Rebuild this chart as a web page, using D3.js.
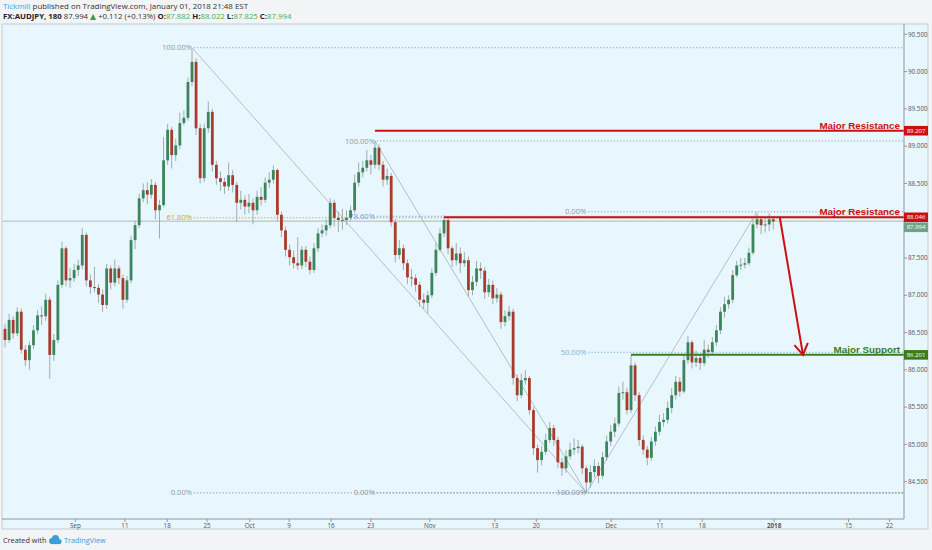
<!DOCTYPE html>
<html><head><meta charset="utf-8">
<script src="https://cdn.jsdelivr.net/npm/d3@7"></script>
<style>html,body{margin:0;padding:0;background:#f2f4f5;} svg{display:block;}</style>
</head><body><svg id="c" width="932" height="550"></svg>
<script>
// ---- DATA (AUDJPY, 180 min, resampled) ----
const firstOpen = 86.55;
const closes = [
86.40,86.67,86.49,86.78,86.27,86.13,86.33,86.53,86.73,86.72,
86.94,86.20,86.40,87.14,87.63,87.20,87.23,87.34,87.40,87.81,
87.20,87.11,87.10,87.01,86.87,87.36,87.17,87.36,87.23,86.94,
87.20,87.74,87.94,88.30,88.41,88.35,88.48,88.14,88.21,88.81,
89.22,88.88,89.01,89.31,89.38,89.86,90.13,89.24,88.57,89.24,
89.46,88.75,88.57,88.52,88.46,88.61,88.48,88.24,88.28,88.19,
88.24,88.14,88.32,88.28,88.51,88.55,88.68,88.08,87.87,87.61,
87.51,87.43,87.40,87.61,87.45,87.34,87.63,87.83,87.87,87.94,
88.24,88.04,88.01,88.01,88.04,88.14,88.51,88.65,88.71,88.81,
88.75,88.98,88.75,88.55,88.60,87.98,87.54,87.63,87.43,87.24,
87.23,87.14,86.94,86.90,87.00,87.30,87.61,87.83,88.01,87.63,
87.47,87.56,87.43,87.47,87.07,87.18,87.36,87.33,87.04,87.14,
86.96,87.01,86.64,86.72,86.78,85.89,85.66,85.86,85.89,85.46,
84.95,84.79,84.90,85.06,85.22,85.06,84.76,84.68,84.84,84.93,
84.95,84.97,84.68,84.49,84.63,84.71,84.58,84.83,85.04,85.17,
85.28,85.69,85.70,85.46,86.06,85.66,85.06,84.93,84.82,85.04,
85.17,85.30,85.33,85.49,85.66,85.84,85.71,86.13,86.37,86.10,
86.16,86.09,86.27,86.24,86.37,86.53,86.78,86.88,86.94,87.27,
87.40,87.41,87.43,87.57,87.95,88.02,87.94,87.95,88.02,87.99];
const highs = [
86.62,86.75,86.72,86.84,86.82,86.33,86.38,86.60,86.80,86.85,
87.02,86.98,86.48,87.20,87.72,87.66,87.36,87.42,87.48,87.90,
87.84,87.28,87.38,87.15,87.08,87.42,87.40,87.48,87.40,87.28,
87.26,87.80,88.00,88.36,88.50,88.52,88.56,88.52,88.28,89.12,
89.30,89.26,89.10,89.45,89.48,89.92,90.30,90.18,89.30,89.30,
89.60,89.50,88.80,88.66,88.58,88.78,88.68,88.52,88.40,88.34,
88.36,88.30,88.40,88.45,88.58,88.65,88.74,88.70,88.12,87.92,
87.68,87.60,87.78,87.66,87.66,87.52,87.70,87.90,87.95,88.02,
88.30,88.28,88.12,88.16,88.14,88.20,88.62,88.78,88.80,88.95,
88.88,89.07,89.02,88.80,88.70,88.64,88.02,87.74,87.68,87.48,
87.35,87.28,87.18,87.02,87.06,87.36,87.70,87.90,88.07,88.04,
87.66,87.70,87.64,87.58,87.52,87.26,87.46,87.44,87.38,87.22,
87.20,87.10,87.05,86.80,86.86,86.82,85.94,85.95,86.00,85.92,
85.50,85.00,84.98,85.14,85.30,85.26,85.10,84.82,84.92,85.02,
85.08,85.06,85.00,84.72,84.72,84.80,84.76,84.90,85.12,85.26,
85.36,85.78,85.84,85.76,86.20,86.10,85.70,85.12,84.98,85.10,
85.24,85.40,85.42,85.58,85.76,85.92,85.90,86.20,86.46,86.40,
86.26,86.22,86.40,86.34,86.44,86.60,86.84,86.98,87.00,87.34,
87.46,87.50,87.50,87.64,88.02,88.10,88.06,88.04,88.10,88.06];
const lows = [
86.30,86.36,86.42,86.45,86.22,86.05,86.00,86.28,86.48,86.60,
86.66,85.88,86.12,86.36,87.10,87.12,87.10,87.18,87.26,87.35,
87.12,87.02,87.04,86.90,86.78,86.82,87.08,87.12,87.15,86.82,
86.90,87.16,87.62,87.90,88.25,88.22,88.30,88.02,87.76,88.18,
88.75,88.70,88.80,88.96,89.28,89.34,89.80,89.15,88.50,88.52,
89.18,88.66,88.48,88.40,88.36,88.40,88.38,87.98,88.15,88.08,
88.10,87.95,88.08,88.20,88.24,88.44,88.50,88.00,87.78,87.52,
87.40,87.36,87.34,87.35,87.38,87.28,87.30,87.58,87.78,87.80,
87.90,87.92,87.85,87.88,87.94,88.00,88.10,88.46,88.58,88.66,
88.62,88.70,88.68,88.46,88.48,87.92,87.44,87.48,87.34,87.15,
87.12,87.05,86.85,86.82,86.76,86.96,87.26,87.58,87.78,87.55,
87.38,87.40,87.30,87.38,86.98,87.00,87.12,87.22,86.95,86.98,
86.88,86.90,86.55,86.58,86.66,85.80,85.58,85.62,85.80,85.40,
84.86,84.62,84.72,84.86,85.02,84.98,84.68,84.58,84.62,84.80,
84.86,84.88,84.60,84.35,84.42,84.56,84.48,84.54,84.78,84.98,
85.10,85.24,85.60,85.40,85.42,85.58,84.98,84.86,84.72,84.78,
84.98,85.12,85.24,85.28,85.42,85.60,85.64,85.68,86.08,86.02,
86.04,86.00,86.05,86.16,86.20,86.32,86.48,86.70,86.82,86.90,
87.24,87.34,87.36,87.40,87.54,87.90,87.82,87.84,87.86,87.88];

// 88.000 is hidden behind the price badges in the reference
const yTicks = [84.5,85,85.5,86,86.5,87,87.5,88.5,89,89.5,90,90.5];
const xTickLabels = ["Sep","11","18","25","Oct","9","16","23","Nov","13","20","Dec","11","18","2018","15","22"];
const xTickBars   = [17.3,29.5,39.9,49.7,60.2,69.9,80.2,90.0,104.5,120.5,130.7,149.1,161.1,171.5,189.2,207.5,217.6];

// fib retracements: [bar1, price1, bar2, price2]
const fibAnchors = [[46,90.32,143,84.35],[91,89.07,143,84.35],[143,84.35,185,88.12]];
const fibLevels = [[1,0.618,0],[1,0.786,0],[1,0.5,0]];
const fibLevelNames = [["100.00%","61.80%","0.00%"],["100.00%","78.60%","0.00%"],["100.00%","50.00%","0.00%"]];
const fibLevelColors = [["#8e9ba6","#c2ac2e","#8e9ba6"],["#8e9ba6","#6f9fd6","#8e9ba6"],["#8e9ba6","#7db3dd","#8e9ba6"]];

// support / resistance levels
const srNames  = ["Major Resistance","Major Resistance","Major Support"];
const srPrices = [89.207, 88.046, 86.201];
const srStartBars = [91, 108, 154];
const srColors = ["#cc1010","#cc1010","#3a7d1c"];
const lastPrice = 87.994;
const arrowFrom = [190.6, 88.046], arrowTo = [196.3, 86.20];

const headerParts = [["FX:AUDJPY, 180","#222","bold"],[" 87.994 ","#333","normal"],["▲","#3d9e3d","normal"],[" +0.112 (+0.13%) ","#333","normal"],
 ["O:","#222","bold"],["87.882","#4caf50","normal"],[" H:","#222","bold"],["88.022","#4caf50","normal"],
 [" L:","#222","bold"],["87.825","#4caf50","normal"],[" C:","#222","bold"],["87.994","#4caf50","normal"]];

// ---- DRAW ----
const svg = d3.select("#c");
const PL = 3, PR = 904, PT = 24, PB = 519;
const x = d3.scaleLinear().domain([0,189]).range([5.03,773.3]);
const y = d3.scaleLinear().domain([84.5,90.5]).range([481.7,34.3]);
const F = "'Open Sans', 'DejaVu Sans', sans-serif";

svg.append("rect").attr("width",932).attr("height",550).attr("fill","#f2f4f5");
svg.append("rect").attr("x",2).attr("y",PT).attr("width",926).attr("height",505)
  .attr("fill","#e8f6fd").attr("stroke","#c3ccd2").attr("stroke-width",1);

svg.append("clipPath").attr("id","pc").append("rect").attr("x",PL).attr("y",PT).attr("width",PR-PL).attr("height",PB-PT);
const plot = svg.append("g").attr("clip-path","url(#pc)");

// fib levels
fibAnchors.forEach((a,k)=>{
  const [b1,p1,b2,p2] = a;
  fibLevels[k].forEach((lv,j)=>{
    const pr = p2 + lv*(p1-p2);
    plot.append("line").attr("x1",x(b1)+2).attr("x2",PR).attr("y1",y(pr)).attr("y2",y(pr))
      .attr("stroke",fibLevelColors[k][j]).attr("stroke-width",1).attr("stroke-dasharray","1.2,2");
    plot.append("text").attr("x",x(b1)).attr("y",y(pr)+2.6).attr("text-anchor","end")
      .attr("font-family",F).attr("font-size",7.6).attr("fill",fibLevelColors[k][j]).text(fibLevelNames[k][j]);
  });
  plot.append("line").attr("x1",x(b1)).attr("y1",y(p1)).attr("x2",x(b2)).attr("y2",y(p2))
    .attr("stroke","#8f9aa3").attr("stroke-width",0.6);
});

// last price line
plot.append("line").attr("x1",PL).attr("x2",PR).attr("y1",y(lastPrice)).attr("y2",y(lastPrice))
  .attr("stroke","#a3aaae").attr("stroke-width",0.8);

// candles
const opens = closes.map((c,i)=> i===0 ? firstOpen : closes[i-1]);
const cg = plot.append("g");
closes.forEach((c,i)=>{
  const o = opens[i], up = c >= o, cx = x(i);
  cg.append("line").attr("x1",cx).attr("x2",cx).attr("y1",y(highs[i])).attr("y2",y(lows[i]))
    .attr("stroke","#9aa3a3").attr("stroke-width",0.9);
  const top = y(Math.max(o,c)), bot = y(Math.min(o,c));
  cg.append("rect").attr("x",cx-1.4).attr("width",2.8).attr("y",top).attr("height",Math.max(1,bot-top))
    .attr("fill", up ? "#3a855c" : "#a83b2b");
});

// support / resistance
srPrices.forEach((p,k)=>{
  plot.append("line").attr("x1",x(srStartBars[k])).attr("x2",PR).attr("y1",y(p)).attr("y2",y(p))
    .attr("stroke",srColors[k]).attr("stroke-width",2);
  plot.append("text").attr("x",900).attr("y",y(p)-2.2).attr("text-anchor","end")
    .attr("font-family","'Liberation Sans', Arial, sans-serif").attr("font-weight","bold").attr("font-size",9.8)
    .attr("fill",srColors[k]).text(srNames[k]);
});

// arrow
const ax1 = x(arrowFrom[0]), ay1 = y(arrowFrom[1]), ax2 = x(arrowTo[0]), ay2 = y(arrowTo[1]);
plot.append("line").attr("x1",ax1).attr("y1",ay1).attr("x2",ax2).attr("y2",ay2)
  .attr("stroke","#cc1010").attr("stroke-width",2);
const ang = Math.atan2(ay2-ay1, ax2-ax1), L = 13, sp = 0.55;
const hp = [[ax2 - L*Math.cos(ang-sp), ay2 - L*Math.sin(ang-sp)],[ax2,ay2],[ax2 - L*Math.cos(ang+sp), ay2 - L*Math.sin(ang+sp)]];
plot.append("path").attr("d", d3.line()(hp)).attr("fill","none").attr("stroke","#cc1010").attr("stroke-width",2)
  .attr("stroke-linejoin","miter");

// axes
svg.append("line").attr("x1",PR).attr("x2",PR).attr("y1",PT).attr("y2",PB).attr("stroke","#8e989f");
svg.append("line").attr("x1",2).attr("x2",PR).attr("y1",PB).attr("y2",PB).attr("stroke","#8e989f");
yTicks.forEach(t=>{
  svg.append("line").attr("x1",PR).attr("x2",PR+3).attr("y1",y(t)).attr("y2",y(t)).attr("stroke","#8e989f");
  svg.append("text").attr("x",908).attr("y",y(t)+2.2).attr("font-family",F).attr("font-size",6.3)
    .attr("fill","#555").text(d3.format(".3f")(t));
});
xTickLabels.forEach((lab,k)=>{
  const tx = x(xTickBars[k]);
  svg.append("line").attr("x1",tx).attr("x2",tx).attr("y1",PB).attr("y2",PB+3).attr("stroke","#8e989f");
  svg.append("text").attr("x",tx).attr("y",PB+8.5).attr("text-anchor","middle").attr("font-family",F)
    .attr("font-size",6.3).attr("font-weight", lab==="2018" ? "bold" : "normal").attr("fill","#555").text(lab);
});

// badges
const badge = (yc, col, txt)=>{
  svg.append("rect").attr("x",PR).attr("y",yc-4.8).attr("width",24).attr("height",9.6).attr("fill",col);
  svg.append("text").attr("x",PR+12).attr("y",yc+2.1).attr("text-anchor","middle").attr("font-family",F)
    .attr("font-size",6).attr("fill","#fff").text(txt);
};
badge(y(srPrices[0]), "#cc1010", d3.format(".3f")(srPrices[0]));
badge(y(srPrices[1]), "#cc1010", d3.format(".3f")(srPrices[1]));
badge(y(srPrices[1])+10, "#6fa386", d3.format(".3f")(lastPrice));
badge(y(srPrices[2]), "#3a7d1c", d3.format(".3f")(srPrices[2]));

// header
const h1 = svg.append("text").attr("x",3).attr("y",8.5).attr("font-family",F).attr("font-size",7.9);
h1.append("tspan").attr("fill","#3aa6e4").text("Tickmill");
h1.append("tspan").attr("fill","#333").text(" published on TradingView.com, January 01, 2018 21:48 EST");
const h2 = svg.append("text").attr("x",3).attr("y",19).attr("font-family",F).attr("font-size",7.8);
headerParts.forEach(p=> h2.append("tspan").attr("fill",p[1]).attr("font-weight",p[2]).text(p[0]));

// footer
svg.append("text").attr("x",3).attr("y",543).attr("font-family",F).attr("font-size",7.3).attr("fill","#333").text("Created with");
const logo = svg.append("g").attr("fill","#3aa0da");
logo.append("circle").attr("cx",52).attr("cy",541).attr("r",3);
logo.append("circle").attr("cx",55.5).attr("cy",538.5).attr("r",3.6);
logo.append("circle").attr("cx",59).attr("cy",541.5).attr("r",2.6);
logo.append("rect").attr("x",51).attr("y",541).attr("width",9).attr("height",3.1);
svg.append("text").attr("x",64).attr("y",543).attr("font-family",F).attr("font-size",7.3).attr("fill","#3aa0da").text("TradingView");
</script></body></html>
